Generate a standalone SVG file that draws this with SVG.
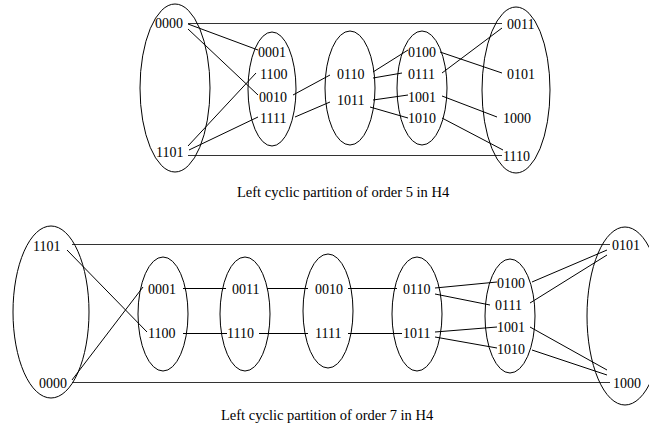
<svg xmlns="http://www.w3.org/2000/svg" width="649" height="431" viewBox="0 0 649 431">
<style>
text{font-family:"Liberation Serif","Times New Roman",serif;font-size:14px;fill:#000}
.cap{font-size:14.5px}
ellipse{fill:none;stroke:#000;stroke-width:1}
line{stroke:#000;stroke-width:1}
.long{stroke:#333;stroke-width:1.2}
</style>
<rect width="649" height="431" fill="#fff"/>
<g id="connectors">
<line class="long" x1="188" y1="23.5" x2="502" y2="23.5"/>
<line class="long" x1="188" y1="155.5" x2="502" y2="155.5"/>
<line x1="188" y1="24" x2="258" y2="50"/>
<line x1="188" y1="29" x2="258" y2="95"/>
<line x1="188" y1="146" x2="256" y2="73"/>
<line x1="189" y1="150" x2="258" y2="117"/>
<line x1="293" y1="95" x2="330" y2="75"/>
<line x1="295" y1="117" x2="330" y2="102"/>
<line x1="373" y1="72" x2="408" y2="50"/>
<line x1="373" y1="78" x2="402" y2="73"/>
<line x1="373" y1="100" x2="408" y2="95"/>
<line x1="370" y1="107" x2="408" y2="118"/>
<line x1="442" y1="73" x2="502" y2="28"/>
<line x1="440" y1="52" x2="502" y2="73"/>
<line x1="442" y1="96" x2="497" y2="117"/>
<line x1="442" y1="118" x2="503" y2="150"/>
<line class="long" x1="72" y1="244.5" x2="610" y2="244.5"/>
<line class="long" x1="72" y1="382.5" x2="610" y2="382.5"/>
<line x1="67" y1="250" x2="147" y2="332"/>
<line x1="72" y1="380" x2="143" y2="287"/>
<line x1="183" y1="288.5" x2="226" y2="288.5"/>
<line x1="183" y1="333.5" x2="227" y2="333.5"/>
<line x1="267" y1="288.5" x2="308" y2="288.5"/>
<line x1="259" y1="333.5" x2="308" y2="333.5"/>
<line x1="348" y1="288.5" x2="397" y2="288.5"/>
<line x1="348" y1="333.5" x2="402" y2="333.5"/>
<line x1="435" y1="288" x2="497" y2="282"/>
<line x1="435" y1="294" x2="490" y2="305"/>
<line x1="435" y1="332" x2="497" y2="327"/>
<line x1="435" y1="337" x2="497" y2="348"/>
<line x1="532" y1="282" x2="607" y2="250"/>
<line x1="530" y1="303" x2="607" y2="255"/>
<line x1="530" y1="327" x2="607" y2="370"/>
<line x1="532" y1="350" x2="607" y2="375"/>
</g>
<g id="top-left"><ellipse cx="175" cy="88" rx="35" ry="84"/><text x="155" y="28">0000</text><text x="156" y="157">1101</text></g>
<g id="top-c1"><ellipse cx="272" cy="89" rx="24" ry="57"/><text x="258" y="57">0001</text><text x="260" y="79">1100</text><text x="259" y="102">0010</text><text x="260" y="123">1111</text></g>
<g id="top-c2"><ellipse cx="350" cy="88" rx="25" ry="57"/><text x="337" y="79">0110</text><text x="337" y="105">1011</text></g>
<g id="top-c3"><ellipse cx="422" cy="88" rx="25" ry="57"/><text x="408" y="57">0100</text><text x="408" y="79">0111</text><text x="408" y="102">1001</text><text x="408" y="123">1010</text></g>
<g id="top-right"><ellipse cx="516" cy="90" rx="34" ry="83"/><text x="507" y="29">0011</text><text x="507" y="79">0101</text><text x="503" y="123">1000</text><text x="503" y="161">1110</text></g>
<text class="cap" x="237" y="197">Left cyclic partition of order 5 in H4</text>
<g id="bot-left"><ellipse cx="51" cy="312" rx="38" ry="86"/><text x="33" y="251">1101</text><text x="39" y="388">0000</text></g>
<g id="bot-c1"><ellipse cx="163" cy="314" rx="25" ry="57"/><text x="148" y="294">0001</text><text x="148" y="338">1100</text></g>
<g id="bot-c2"><ellipse cx="245" cy="314" rx="25" ry="57"/><text x="232" y="294">0011</text><text x="227" y="338">1110</text></g>
<g id="bot-c3"><ellipse cx="328" cy="311" rx="25" ry="57"/><text x="315" y="294">0010</text><text x="315" y="338">1111</text></g>
<g id="bot-c4"><ellipse cx="417" cy="314" rx="25" ry="57"/><text x="403" y="294">0110</text><text x="403" y="338">1011</text></g>
<g id="bot-c5"><ellipse cx="510" cy="316" rx="25" ry="57"/><text x="497" y="288">0100</text><text x="495" y="310">0111</text><text x="497" y="332">1001</text><text x="497" y="354">1010</text></g>
<g id="bot-right"><ellipse cx="625" cy="316" rx="38" ry="89"/><text x="612" y="250">0101</text><text x="613" y="388">1000</text></g>
<text class="cap" x="221" y="420">Left cyclic partition of order 7 in H4</text>
</svg>
